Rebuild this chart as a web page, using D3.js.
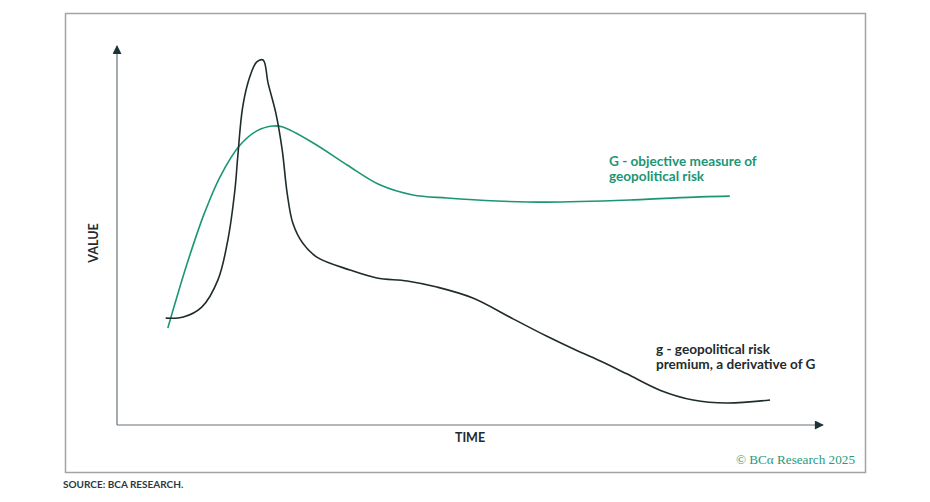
<!DOCTYPE html>
<html lang="en">
<head>
<meta charset="UTF-8">
<title>G vs g</title>
<script src="https://d3js.org/d3.v7.min.js"></script>
<style>
  body { margin: 0; background: #fff; }
  svg { display: block; font-family: Lato, "Open Sans", sans-serif; }
</style>
</head>
<body>
<svg id="chart"></svg>
<script>
// time (0-100) and value (0-100)
const bigGTime  = [7.2, 8.2, 10.0, 12.3, 14.6, 17.4, 19.8, 22.1, 23.5, 27.8, 32.6, 37.3, 41.9, 46.7, 53.8, 60.9, 73.1, 82.6, 86.8];
const bigGValue = [25.6, 32.0, 43.0, 55.5, 65.5, 73.8, 77.6, 78.9, 78.6, 74.4, 68.6, 63.3, 60.7, 59.9, 59.1, 58.8, 59.4, 60.2, 60.4];

const smallGTime  = [6.9, 9.4, 12.0, 14.3, 15.7, 16.7, 17.1, 17.8, 18.8, 19.8, 20.7, 21.4, 22.5, 23.4, 24.1, 24.9, 26.3, 28.3, 33.0, 36.8, 41.1, 45.3, 50.4, 56.1, 60.9, 65.2, 67.4, 72.2, 76.9, 81.6, 86.4, 92.5];
const smallGValue = [28.2, 28.5, 31.1, 38.3, 48.8, 62.0, 70.7, 83.9, 91.8, 95.8, 96.3, 90.2, 82.3, 72.6, 61.2, 53.3, 48.0, 44.3, 40.9, 38.8, 38.0, 36.4, 33.5, 28.0, 23.4, 19.6, 17.8, 13.5, 9.2, 6.6, 5.8, 6.6];

const bigGLabel = ["G - objective measure of", "geopolitical risk"];
const smallGLabel = ["g - geopolitical risk", "premium, a derivative of G"];

const W = 930, H = 502;
const green = "#1b9675", dark = "#1f2b2d";

const svg = d3.select("#chart").attr("width", W).attr("height", H);

// outer frame
svg.append("rect")
  .attr("x", 65.5).attr("y", 13.5)
  .attr("width", 800).attr("height", 459)
  .attr("fill", "none").attr("stroke", "#a3a3a3").attr("stroke-width", 1.5);

const x = d3.scaleLinear().domain([0, 100]).range([117, 823]);
const y = d3.scaleLinear().domain([0, 100]).range([425, 46]);

// arrow marker
svg.append("defs").append("marker")
  .attr("id", "arrow")
  .attr("viewBox", "0 0 10 10")
  .attr("refX", 9).attr("refY", 5)
  .attr("markerWidth", 10).attr("markerHeight", 9)
  .attr("markerUnits", "userSpaceOnUse")
  .attr("orient", "auto")
  .append("path").attr("d", "M0,0L10,5L0,10Z").attr("fill", "#1d3338");

// axes
svg.append("line")
  .attr("x1", x(0)).attr("y1", y(0)).attr("x2", x(0)).attr("y2", y(100))
  .attr("stroke", "#66737a").attr("stroke-width", 1.2)
  .attr("marker-end", "url(#arrow)");
svg.append("line")
  .attr("x1", x(0)).attr("y1", y(0)).attr("x2", x(100)).attr("y2", y(0))
  .attr("stroke", "#66737a").attr("stroke-width", 1.2)
  .attr("marker-end", "url(#arrow)");

svg.append("text")
  .attr("transform", `translate(98,${y(48)}) rotate(-90)`)
  .attr("text-anchor", "middle")
  .attr("font-size", 12.5).attr("font-weight", 700).attr("fill", dark)
  .text("VALUE");

svg.append("text")
  .attr("x", 470).attr("y", 442)
  .attr("text-anchor", "middle")
  .attr("font-size", 12.5).attr("font-weight", 700).attr("fill", dark)
  .text("TIME");

// curves
const line = d3.line()
  .x(d => x(d[0])).y(d => y(d[1]))
  .curve(d3.curveCatmullRom.alpha(0.5));

svg.append("path")
  .datum(bigGTime.map((t, i) => [t, bigGValue[i]]))
  .attr("d", line)
  .attr("fill", "none").attr("stroke", green).attr("stroke-width", 1.6);

svg.append("path")
  .datum(smallGTime.map((t, i) => [t, smallGValue[i]]))
  .attr("d", line)
  .attr("fill", "none").attr("stroke", dark).attr("stroke-width", 1.6);

// line labels
svg.append("text")
  .attr("x", 609).attr("y", 166)
  .attr("font-size", 13.6).attr("font-weight", 700).attr("fill", green)
  .selectAll("tspan").data(bigGLabel).join("tspan")
  .attr("x", 609).attr("dy", (d, i) => i ? 15 : 0)
  .text(d => d);

svg.append("text")
  .attr("x", 656).attr("y", 354)
  .attr("font-size", 13.6).attr("font-weight", 700).attr("fill", dark)
  .selectAll("tspan").data(smallGLabel).join("tspan")
  .attr("x", 656).attr("dy", (d, i) => i ? 15 : 0)
  .text(d => d);

// credit and source
svg.append("text")
  .attr("x", 855).attr("y", 464)
  .attr("text-anchor", "end")
  .attr("font-family", "'Liberation Serif', 'DejaVu Serif', serif")
  .attr("font-size", 13.2).attr("fill", "#2a9a7a")
  .text("© BCα Research 2025");

svg.append("text")
  .attr("x", 63).attr("y", 488)
  .attr("font-size", 10).attr("font-weight", 700).attr("fill", "#2a3a40")
  .text("SOURCE: BCA RESEARCH.");
</script>
</body>
</html>
